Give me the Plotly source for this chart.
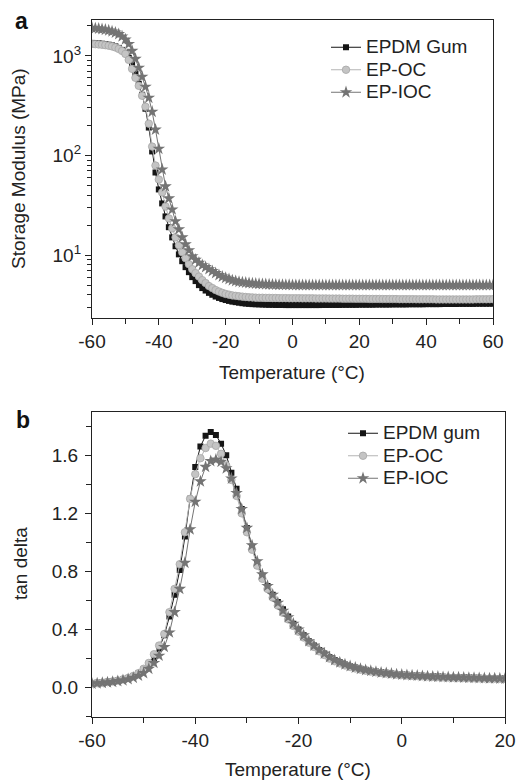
import plotly.graph_objects as go

FONT = "Liberation Sans, Arial, Helvetica, sans-serif"

# ---------------- Panel a: storage modulus (MPa) ----------------
temp_a = list(range(-60, 61))
gum_a = [
    1349, 1343, 1334, 1324, 1312, 1294, 1274, 1245, 1202, 1148,
    1072, 955, 813, 661, 525, 407, 295, 191, 110, 67.6,
    45.7, 33.1, 24.5, 19.1, 15.1, 12.3, 10.2, 8.71, 7.59, 6.76,
    6.03, 5.50, 5.01, 4.68, 4.42, 4.19, 4.01, 3.85, 3.73, 3.63,
    3.55, 3.48, 3.42, 3.38, 3.34, 3.30, 3.27, 3.25, 3.23, 3.22,
    3.21, 3.20, 3.19, 3.18, 3.18, 3.17, 3.17, 3.17, 3.16, 3.16,
    3.16,
    3.16, 3.16, 3.16, 3.16, 3.16, 3.16, 3.16, 3.16, 3.17, 3.17,
    3.17, 3.17, 3.17, 3.17, 3.18, 3.18, 3.18, 3.18, 3.18, 3.19,
    3.19, 3.19, 3.19, 3.19, 3.20, 3.20, 3.20, 3.20, 3.20, 3.21,
    3.21, 3.21, 3.21, 3.21, 3.22, 3.22, 3.22, 3.22, 3.22, 3.23,
    3.23, 3.23, 3.23, 3.23, 3.24, 3.24, 3.24, 3.24, 3.24, 3.25,
    3.25, 3.25, 3.25, 3.25, 3.26, 3.26, 3.26, 3.26, 3.26, 3.27,
]
oc_a = [
    1318, 1312, 1303, 1294, 1282, 1265, 1245, 1216, 1175, 1122,
    1047, 912, 741, 603, 501, 398, 309, 209, 123, 79.4,
    57.5, 42.7, 30.9, 23.4, 18.6, 15.1, 12.6, 10.7, 9.33, 8.13,
    7.24, 6.61, 6.10, 5.62, 5.25, 4.90, 4.68, 4.47, 4.32, 4.19,
    4.09, 4.02, 3.95, 3.91, 3.87, 3.84, 3.81, 3.78, 3.77, 3.75,
    3.74, 3.74, 3.73, 3.73, 3.72, 3.72, 3.71, 3.71, 3.71, 3.70,
    3.70,
    3.70, 3.70, 3.69, 3.69, 3.69, 3.69, 3.68, 3.68, 3.68, 3.68,
    3.67, 3.67, 3.67, 3.67, 3.66, 3.66, 3.66, 3.66, 3.65, 3.65,
    3.65, 3.65, 3.64, 3.64, 3.64, 3.64, 3.63, 3.63, 3.63, 3.63,
    3.63, 3.62, 3.62, 3.62, 3.62, 3.62, 3.61, 3.61, 3.61, 3.61,
    3.61, 3.61, 3.60, 3.60, 3.60, 3.60, 3.60, 3.60, 3.60, 3.60,
    3.60, 3.60, 3.60, 3.60, 3.61, 3.61, 3.61, 3.61, 3.62, 3.62,
]
ioc_a = [
    1905, 1892, 1875, 1853, 1828, 1799, 1758, 1710, 1652, 1567,
    1462, 1318, 1122, 933, 759, 617, 490, 380, 275, 182,
    117, 72.4, 49.0, 37.2, 28.8, 21.9, 18.2, 15.1, 12.9, 11.2,
    9.77, 9.02, 8.41, 7.94, 7.59, 7.24, 6.92, 6.61, 6.31, 6.10,
    5.92, 5.75, 5.60, 5.50, 5.41, 5.35, 5.30, 5.25, 5.21, 5.18,
    5.15, 5.13, 5.11, 5.09, 5.07, 5.06, 5.05, 5.04, 5.03, 5.03,
    5.02,
    5.02, 5.01, 5.01, 5.01, 5.00, 5.00, 5.00, 5.00, 5.00, 5.00,
    5.00, 5.00, 5.00, 5.00, 5.00, 5.00, 5.00, 5.00, 5.00, 5.00,
    5.00, 5.00, 5.00, 5.00, 5.00, 5.00, 5.00, 5.00, 5.00, 5.00,
    5.00, 5.00, 5.00, 5.00, 5.00, 5.00, 5.00, 5.00, 5.00, 5.00,
    5.00, 5.00, 5.00, 5.00, 5.00, 5.00, 5.00, 5.00, 5.00, 5.00,
    5.00, 5.00, 5.00, 5.00, 5.00, 5.00, 5.00, 5.00, 5.00, 5.00,
]

# ---------------- Panel b: tan delta ----------------
temp_b = list(range(-60, 21))
gum_b = [
    0.030, 0.033, 0.036, 0.040, 0.045, 0.051, 0.058, 0.067, 0.080, 0.098,
    0.125, 0.160, 0.205, 0.27, 0.36, 0.49, 0.64, 0.81, 1.04, 1.30,
    1.52, 1.66, 1.735, 1.76, 1.74, 1.68, 1.60, 1.48, 1.37, 1.23,
    1.10, 0.97, 0.86, 0.77, 0.70, 0.64, 0.59, 0.54, 0.49, 0.44,
    0.40, 0.36, 0.32, 0.29, 0.26, 0.235, 0.21, 0.19, 0.175, 0.16,
    0.148, 0.138, 0.130, 0.123, 0.117, 0.111, 0.106, 0.102, 0.098, 0.094,
    0.091,
    0.088, 0.086, 0.084, 0.082, 0.080, 0.078, 0.077, 0.075, 0.074, 0.073,
    0.072, 0.071, 0.070, 0.069, 0.068, 0.067, 0.066, 0.065, 0.065, 0.064,
]
oc_b = [
    0.028, 0.031, 0.034, 0.038, 0.043, 0.049, 0.057, 0.067, 0.081, 0.100,
    0.130, 0.170, 0.23, 0.29, 0.37, 0.52, 0.68, 0.85, 1.07, 1.30,
    1.47, 1.58, 1.65, 1.68, 1.665, 1.61, 1.53, 1.43, 1.32, 1.20,
    1.07, 0.95, 0.84, 0.75, 0.68, 0.62, 0.565, 0.515, 0.47, 0.425,
    0.385, 0.345, 0.31, 0.28, 0.25, 0.225, 0.20, 0.182, 0.167, 0.153,
    0.142, 0.132, 0.124, 0.117, 0.111, 0.106, 0.101, 0.097, 0.093, 0.090,
    0.087,
    0.084, 0.082, 0.080, 0.078, 0.076, 0.074, 0.073, 0.071, 0.070, 0.069,
    0.068, 0.067, 0.066, 0.065, 0.064, 0.063, 0.062, 0.062, 0.061, 0.060,
]
ioc_b = [
    0.028, 0.030, 0.033, 0.036, 0.040, 0.045, 0.051, 0.058, 0.068, 0.082,
    0.100, 0.130, 0.170, 0.22, 0.28, 0.38, 0.52, 0.68, 0.86, 1.09,
    1.28, 1.42, 1.52, 1.56, 1.57, 1.555, 1.51, 1.44, 1.34, 1.23,
    1.10, 0.98, 0.87, 0.78, 0.70, 0.64, 0.585, 0.53, 0.485, 0.44,
    0.40, 0.36, 0.32, 0.29, 0.26, 0.235, 0.21, 0.19, 0.174, 0.160,
    0.148, 0.138, 0.129, 0.121, 0.115, 0.109, 0.104, 0.100, 0.096, 0.092,
    0.089,
    0.086, 0.084, 0.082, 0.080, 0.078, 0.076, 0.075, 0.073, 0.072, 0.071,
    0.070, 0.069, 0.068, 0.067, 0.066, 0.065, 0.064, 0.064, 0.063, 0.062,
]

# tick labels
xticks_a = [-60, -40, -20, 0, 20, 40, 60]
xticklabels_a = ["-60", "-40", "-20", "0", "20", "40", "60"]
yticks_a = [10, 100, 1000]
yticklabels_a = ["10<sup>1</sup>", "10<sup>2</sup>", "10<sup>3</sup>"]
yminor_a = [3, 4, 5, 6, 7, 8, 9, 20, 30, 40, 50, 60, 70, 80, 90,
            200, 300, 400, 500, 600, 700, 800, 900, 2000]
xticks_b = [-60, -40, -20, 0, 20]
xticklabels_b = ["-60", "-40", "-20", "0", "20"]
yticks_b = [0.0, 0.4, 0.8, 1.2, 1.6]
yticklabels_b = ["0.0", "0.4", "0.8", "1.2", "1.6"]

legend_a_names = ["EPDM Gum", "EP-OC", "EP-IOC"]
legend_b_names = ["EPDM gum", "EP-OC", "EP-IOC"]

W, H = 518, 780
TXT = 19


def big(s):
    return '<span style="font-size:%dpx">%s</span>' % (TXT, s)


styles = {
    "gum": dict(marker=dict(symbol="square", size=6, color="#151515",
                            line=dict(width=0)),
                line=dict(color="#151515", width=1)),
    "oc": dict(marker=dict(symbol="circle", size=7.5, color="#c4c4c4",
                           line=dict(color="#a6a6a6", width=0.8)),
               line=dict(color="#b5b5b5", width=1)),
    "ioc": dict(marker=dict(symbol="star", size=9.5, color="#747474",
                            line=dict(width=0)),
                line=dict(color="#747474", width=1)),
}

fig = go.Figure()
for name, key, y in zip(legend_a_names, ["gum", "oc", "ioc"],
                        [gum_a, oc_a, ioc_a]):
    fig.add_trace(go.Scatter(x=temp_a, y=y, name=big(name),
                             mode="lines+markers",
                             xaxis="x", yaxis="y", legend="legend",
                             **styles[key]))
for name, key, y in zip(legend_b_names, ["gum", "oc", "ioc"],
                        [gum_b, oc_b, ioc_b]):
    fig.add_trace(go.Scatter(x=temp_b, y=y, name=big(name),
                             mode="lines+markers",
                             xaxis="x2", yaxis="y2", legend="legend2",
                             **styles[key]))

axis_common = dict(showline=True, linecolor="#222", linewidth=1.3,
                   mirror=True, ticks="outside", ticklen=6, tickwidth=1.2,
                   tickcolor="#222", showgrid=False, zeroline=False,
                   automargin=False,
                   tickfont=dict(family=FONT, size=TXT, color="#222"))

legend_common = dict(xanchor="left", yanchor="top", bgcolor="rgba(0,0,0,0)",
                     itemwidth=30, borderwidth=0,
                     font=dict(family=FONT, size=15, color="#222"))

ann_font = dict(family=FONT, size=TXT, color="#222")
lab_font = dict(family=FONT, size=23, color="#111")

fig.update_layout(
    width=W, height=H,
    margin=dict(l=0, r=0, t=0, b=0, pad=0, autoexpand=False),
    paper_bgcolor="white", plot_bgcolor="white",
    font=dict(family=FONT, color="#222"),
    xaxis=dict(domain=[92 / W, 493 / W], anchor="y", range=[-60, 60],
               tickmode="array", tickvals=xticks_a, ticktext=xticklabels_a,
               minor=dict(dtick=10, tick0=0, ticks="outside", ticklen=5,
                          tickcolor="#222", showgrid=False),
               **axis_common),
    yaxis=dict(domain=[1 - 318 / H, 1 - 20 / H], anchor="x", type="log",
               range=[0.37, 3.36],
               tickmode="array", tickvals=yticks_a, ticktext=yticklabels_a,
               minor=dict(tickmode="array", tickvals=yminor_a, ticks="outside",
                          ticklen=3.5, tickcolor="#222", showgrid=False),
               **axis_common),
    xaxis2=dict(domain=[92 / W, 505 / W], anchor="y2", range=[-60, 20],
                tickmode="array", tickvals=xticks_b, ticktext=xticklabels_b,
                minor=dict(dtick=10, tick0=0, ticks="outside", ticklen=5,
                           tickcolor="#222", showgrid=False),
                **axis_common),
    yaxis2=dict(domain=[1 - 716.7 / H, 1 - 411.7 / H], anchor="x2",
                range=[-0.2, 1.9], ticklabelstandoff=3,
                tickmode="array", tickvals=yticks_b, ticktext=yticklabels_b,
                minor=dict(dtick=0.2, tick0=0, ticks="outside", ticklen=5,
                           tickcolor="#222", showgrid=False),
                **axis_common),
    legend=dict(x=326 / W, y=1 - 31 / H, **legend_common),
    legend2=dict(x=343 / W, y=1 - 417 / H, **legend_common),
    annotations=[
        dict(text="<b>a</b>", x=21.5 / W, y=1 - 21 / H, font=lab_font),
        dict(text="<b>b</b>", x=22.5 / W, y=1 - 419.5 / H, font=lab_font),
        dict(text="Storage Modulus (MPa)", x=18 / W, y=1 - 169 / H,
             textangle=-90, font=ann_font),
        dict(text="Temperature (°C)", x=292 / W, y=1 - 372 / H, font=ann_font),
        dict(text="tan delta", x=20 / W, y=1 - 564 / H, textangle=-90,
             font=ann_font),
        dict(text="Temperature (°C)", x=298 / W, y=1 - 769 / H, font=ann_font),
    ],
)
fig.update_annotations(xref="paper", yref="paper", showarrow=False,
                       xanchor="center", yanchor="middle")

fig.write_html(
    "out.html",
    config={"displayModeBar": False},
    post_script="document.body.style.margin='0';"
                "document.body.style.overflow='hidden';",
)
